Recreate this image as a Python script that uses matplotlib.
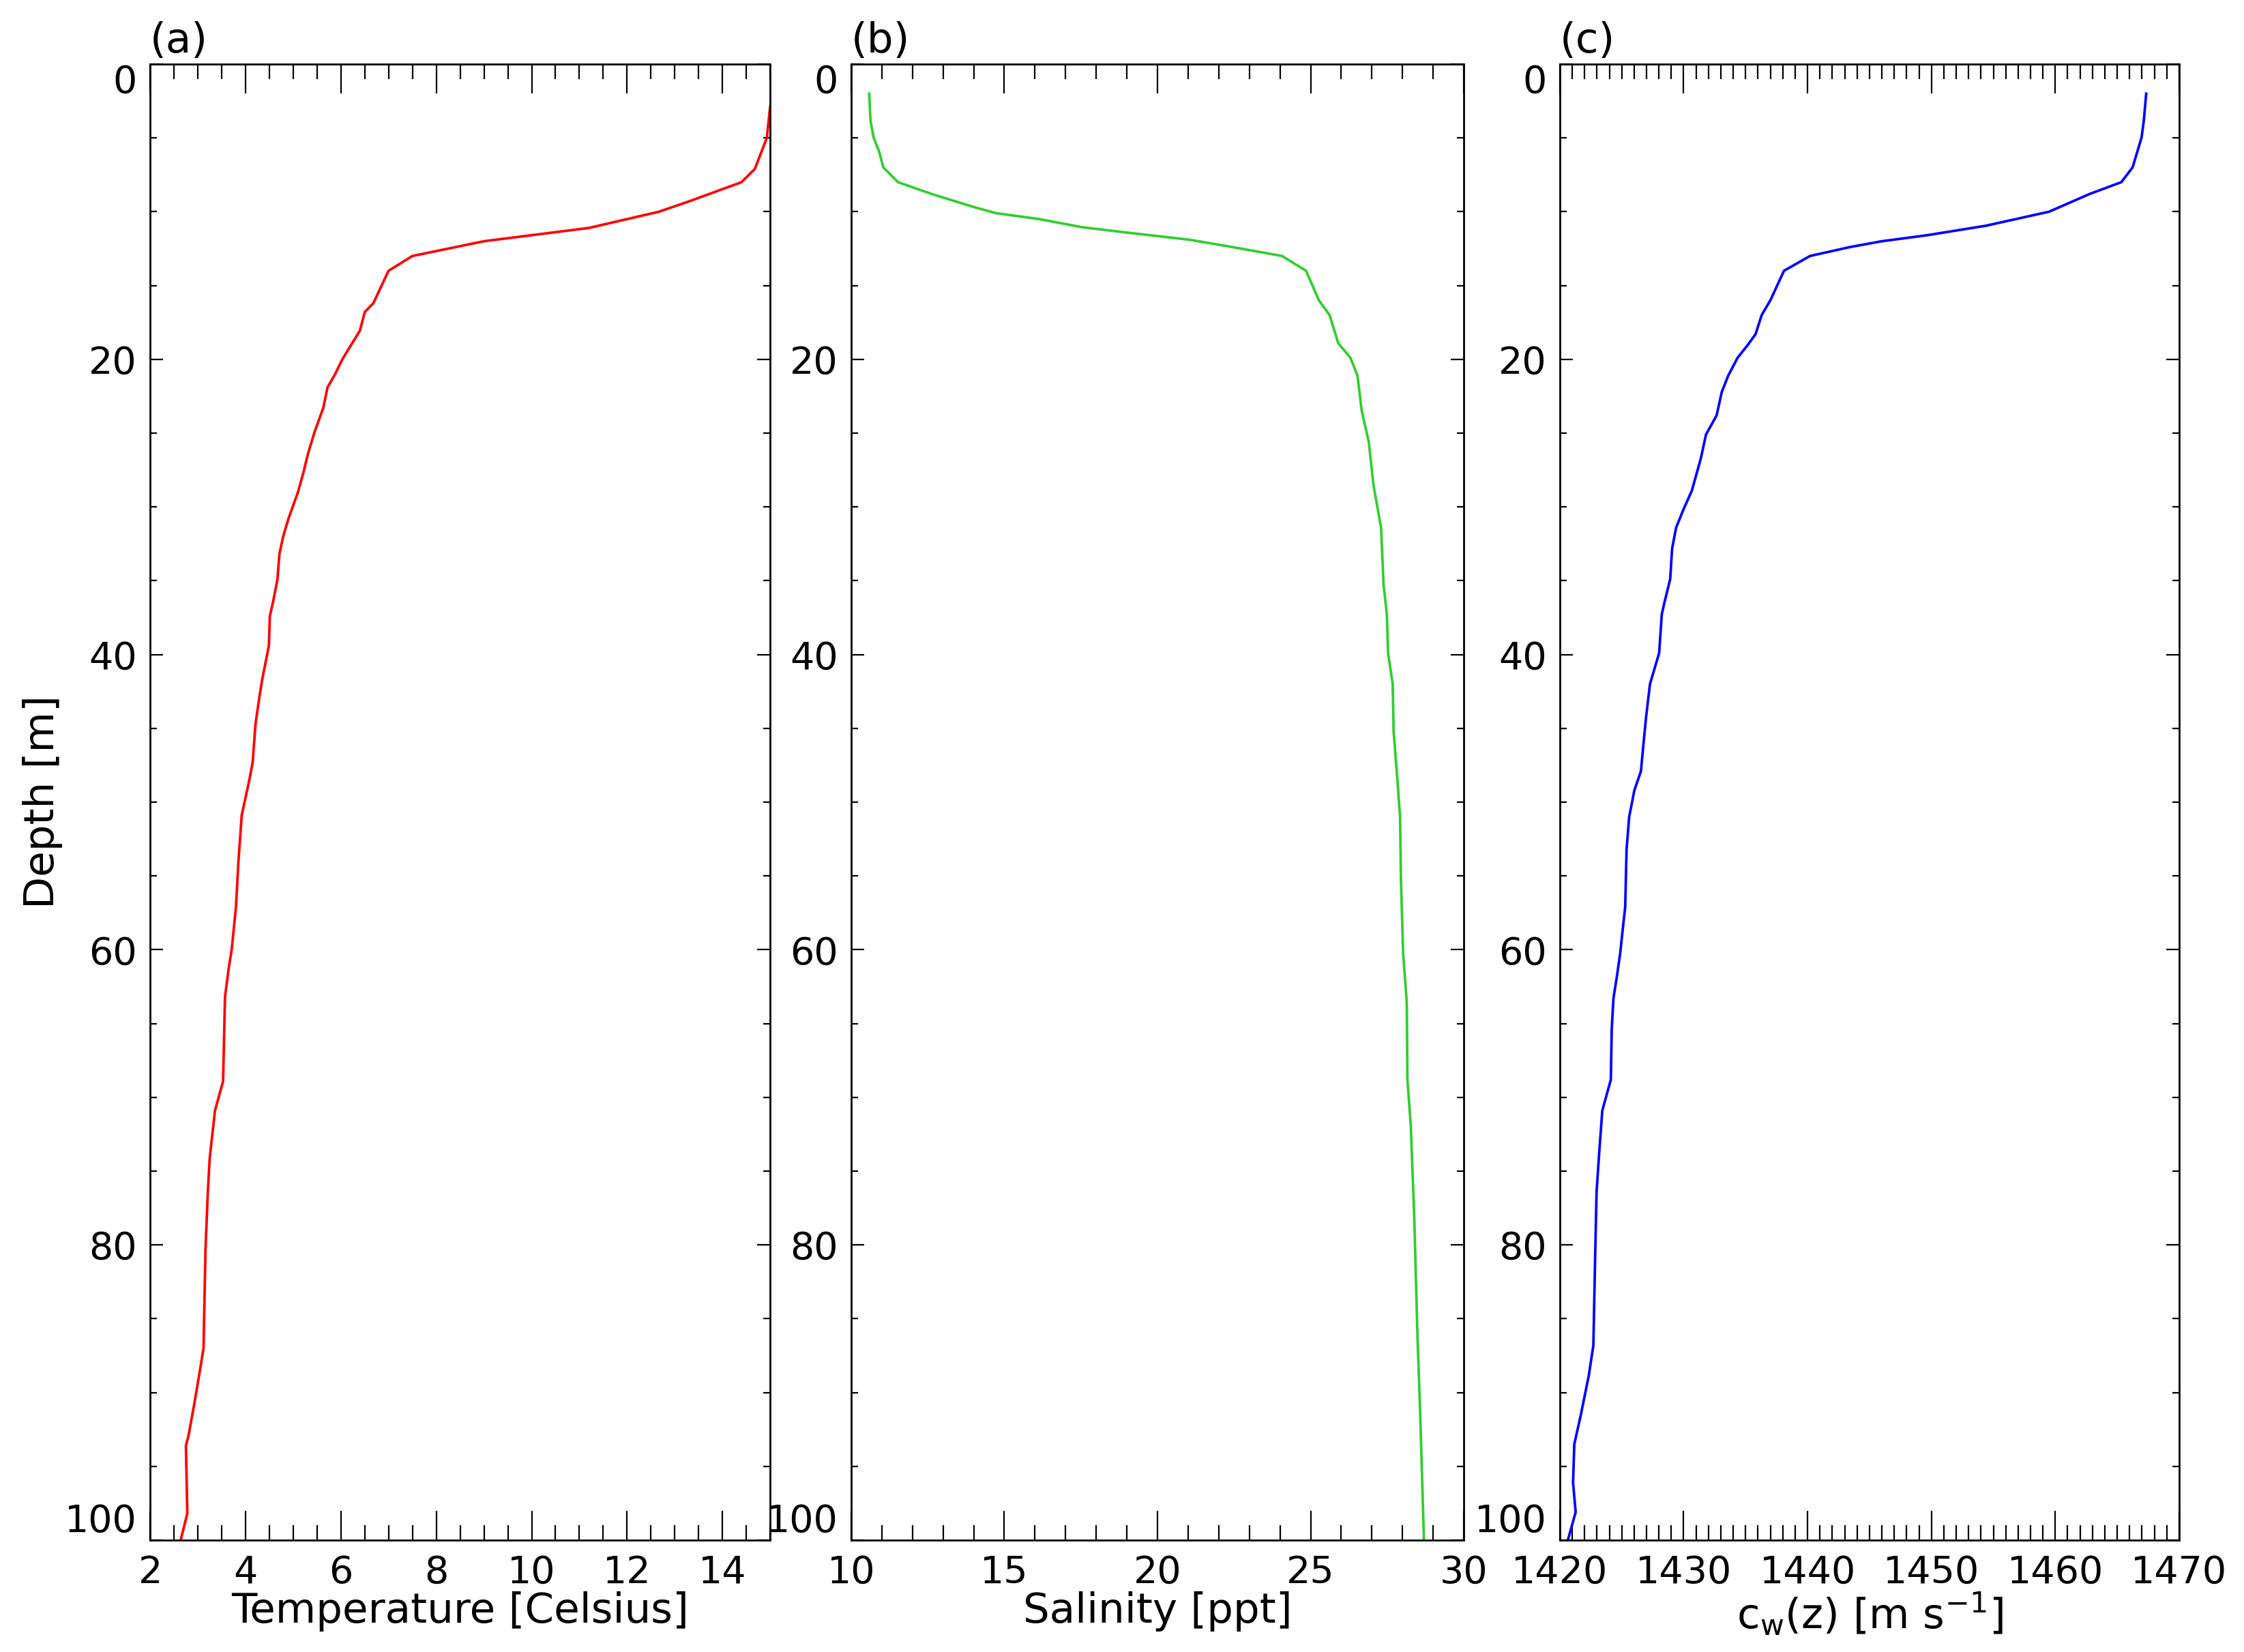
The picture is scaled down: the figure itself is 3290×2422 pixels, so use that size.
import matplotlib
matplotlib.use("Agg")
import matplotlib.pyplot as plt
from matplotlib.ticker import MultipleLocator

# temperature profile (panel a)
depthT = [2.0, 2.9, 5.0, 7.1, 8.0, 9.3, 10.0, 11.1, 12.0, 13.0, 14.0, 16.2, 16.8, 18.05, 19.0, 20.0,
          21.0, 21.9, 23.3, 24.9, 26.4, 27.6, 29.0, 30.8, 32.0, 33.2, 34.9, 36.4, 37.4, 39.4, 41.7,
          42.9, 44.7, 47.3, 48.5, 50.9, 54.1, 57.1, 60.0, 61.2, 63.2, 68.9, 70.9, 74.1, 76.4, 80.4,
          87.0, 88.4, 90.7, 93.0, 93.6, 98.2, 100.0]
temp = [15.08, 15.0, 14.93, 14.68, 14.4, 13.3, 12.67, 11.2, 9.0, 7.5, 7.0, 6.68, 6.5, 6.4, 6.22, 6.03,
        5.88, 5.72, 5.63, 5.45, 5.31, 5.22, 5.1, 4.9, 4.79, 4.71, 4.67, 4.58, 4.51, 4.49, 4.35,
        4.29, 4.21, 4.15, 4.08, 3.92, 3.85, 3.80, 3.71, 3.65, 3.57, 3.53, 3.36, 3.25, 3.21, 3.16,
        3.12, 3.05, 2.93, 2.80, 2.75, 2.78, 2.64]

# salinity profile (panel b)
depthS = [2.0, 3.8, 4.96, 5.9, 7.0, 8.0, 8.8, 9.7, 10.1, 10.5, 11.05, 11.4, 11.9, 12.4, 13.0, 14.0,
          16.0, 17.0, 18.9, 19.9, 21.1, 23.5, 25.6, 28.5, 31.4, 35.2, 37.3, 39.9, 42.0, 45.2, 48.4,
          51.0, 55.3, 60.2, 63.6, 68.8, 71.9, 77.9, 86.25, 90.9, 100.0]
sal = [10.59, 10.63, 10.73, 10.91, 11.05, 11.53, 12.63, 14.03, 14.73, 16.14, 17.54, 18.95, 21.05,
       22.46, 24.07, 24.85, 25.27, 25.62, 25.9, 26.3, 26.53, 26.67, 26.9, 27.05, 27.3, 27.38, 27.49,
       27.53, 27.68, 27.71, 27.83, 27.92, 27.95, 28.02, 28.14, 28.16, 28.27, 28.38, 28.49, 28.57, 28.70]

# sound speed profile (panel c)
depthC = [2.0, 3.8, 4.96, 6.0, 7.0, 8.0, 8.8, 10.0, 10.95, 11.6, 12.0, 12.4, 13.0, 14.0, 16.0, 17.0,
          18.3, 19.0, 19.9, 21.1, 22.2, 23.8, 25.1, 26.7, 28.9, 30.1, 31.4, 32.8, 34.9, 36.5, 37.3,
          39.9, 42.0, 44.2, 46.0, 47.9, 49.2, 51.0, 53.2, 57.1, 58.7, 60.2, 61.8, 63.3, 65.4, 68.8,
          70.9, 73.75, 76.4, 80.5, 86.8, 88.85, 91.5, 93.5, 96.1, 98.1, 100.0]
cw = [1467.34, 1467.15, 1466.97, 1466.6, 1466.24, 1465.33, 1462.77, 1459.5, 1454.4, 1449.6, 1446.0,
      1443.4, 1440.2, 1438.1, 1437.0, 1436.3, 1435.8, 1435.2, 1434.35, 1433.6, 1433.08, 1432.66,
      1431.8, 1431.39, 1430.66, 1430.02, 1429.39, 1429.07, 1428.91, 1428.44, 1428.23, 1428.02,
      1427.28, 1426.97, 1426.76, 1426.55, 1426.02, 1425.6, 1425.39, 1425.28, 1425.07, 1424.88,
      1424.61, 1424.33, 1424.19, 1424.12, 1423.43, 1423.18, 1422.97, 1422.86, 1422.71, 1422.34,
      1421.70, 1421.17, 1421.07, 1421.28, 1420.65]

plt.rcParams['font.family'] = ['DejaVu Sans']
plt.rcParams['font.size'] = 40
plt.rcParams['mathtext.default'] = 'regular'

fig = plt.figure(figsize=(32.9, 24.22), dpi=100)

bottom = 0.0677
height = 0.8935
ax_a = fig.add_axes([0.0669, bottom, 0.2763, height])
ax_b = fig.add_axes([0.3793, bottom, 0.2730, height])
ax_c = fig.add_axes([0.6951, bottom, 0.2760, height])

panels = [
    (ax_a, temp, depthT, 'red', (2, 15), 2, 0.5, 'Temperature [Celsius]', '(a)'),
    (ax_b, sal, depthS, '#32cd32', (10, 30), 5, 1, 'Salinity [ppt]', '(b)'),
    (ax_c, cw, depthC, 'blue', (1420, 1470), 10, 1, r'c$_w$(z) [m s$^{-1}$]', '(c)'),
]

for ax, x, z, col, xl, major, minor, xlab, tag in panels:
    ax.plot(x, z, color=col, linewidth=2.7)
    ax.set_xlim(xl)
    ax.set_ylim(100, 0)
    ax.xaxis.set_major_locator(MultipleLocator(major))
    ax.xaxis.set_minor_locator(MultipleLocator(minor))
    ax.yaxis.set_major_locator(MultipleLocator(20))
    ax.yaxis.set_minor_locator(MultipleLocator(5))
    ax.tick_params(axis='x', which='major', direction='in', length=31, width=1.6,
                   top=True, bottom=True, pad=15)
    ax.tick_params(axis='x', which='minor', direction='in', length=16, width=1.6,
                   top=True, bottom=True)
    ax.tick_params(axis='y', which='major', direction='in', length=14, width=1.6,
                   left=True, right=True, pad=14)
    ax.tick_params(axis='y', which='minor', direction='in', length=7, width=1.6,
                   left=True, right=True)
    for s in ax.spines.values():
        s.set_linewidth(2.0)
    ax.set_xlabel(xlab, fontsize=44, labelpad=0)
    ax.text(0.0, 1.002, tag, transform=ax.transAxes, ha='left', va='bottom', fontsize=44)

ax_a.set_ylabel('Depth [m]', fontsize=44, labelpad=2)

# keep the end labels inside the plot height, like the original
fig.canvas.draw()
for ax in (ax_a, ax_b, ax_c):
    for lab in ax.get_yticklabels():
        if lab.get_text() == '0':
            lab.set_va('top')
        elif lab.get_text() == '100':
            lab.set_va('bottom')

plt.savefig('out.png', dpi=100)
